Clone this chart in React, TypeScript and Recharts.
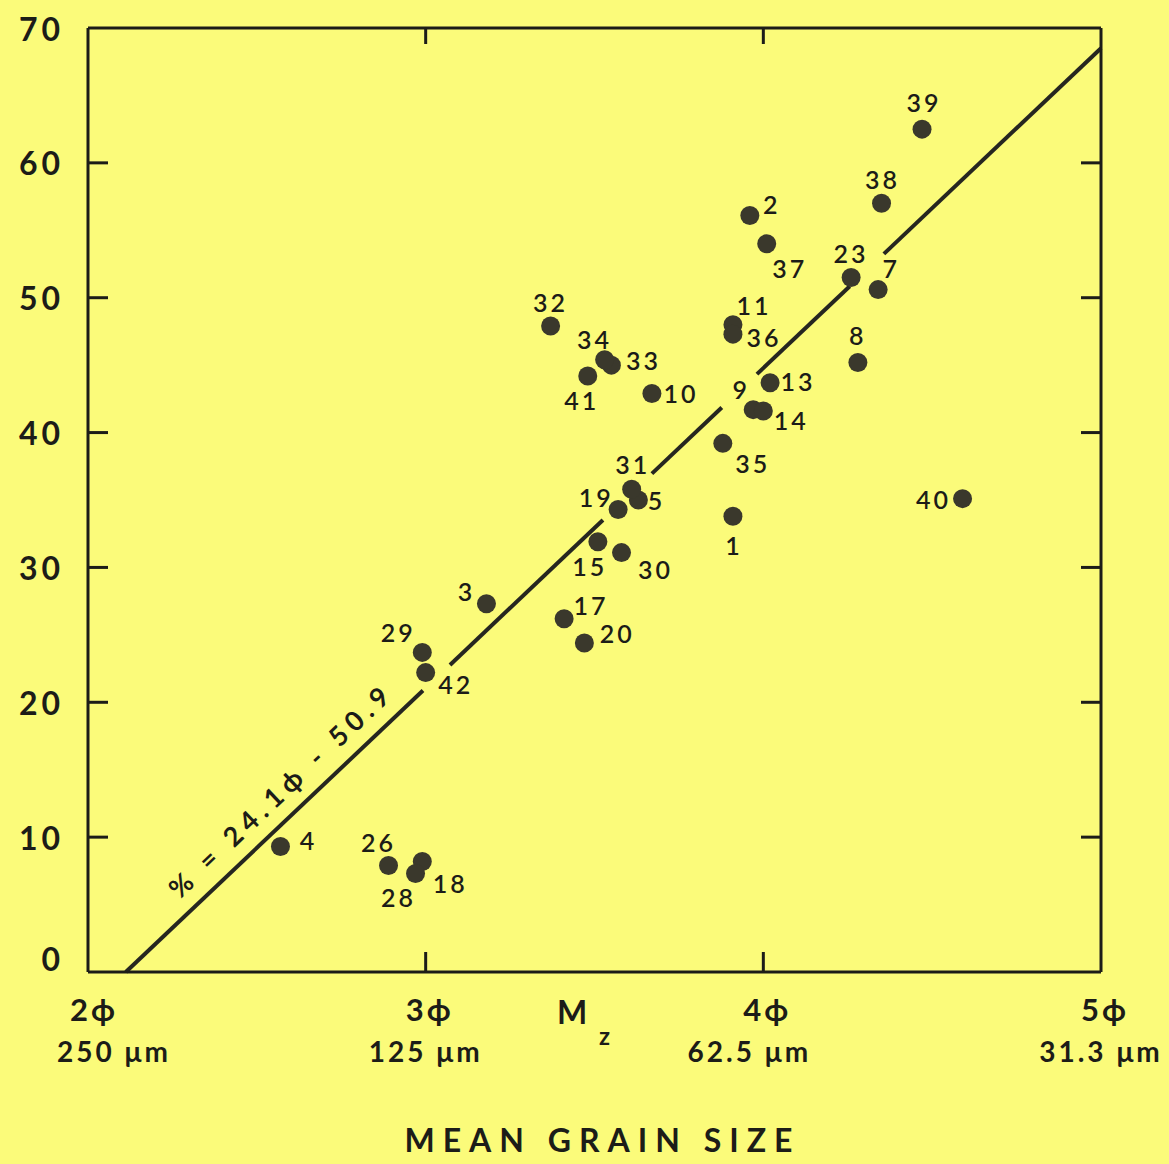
import { ReferenceDot, ReferenceLine, Scatter, ScatterChart, XAxis, YAxis } from "recharts";

// sample numbers, mean grain size (phi) and percent value
const SAMPLE_IDS = [1, 2, 3, 4, 5, 7, 8, 9, 10, 11, 13, 14, 15, 17, 18, 19, 20, 23, 26, 28, 29, 30, 31, 32, 33, 34, 35, 36, 37, 38, 39, 40, 41, 42];
const MEAN_PHI = [3.91, 3.96, 3.18, 2.57, 3.63, 4.34, 4.28, 3.97, 3.67, 3.91, 4.02, 4.0, 3.51, 3.41, 2.99, 3.57, 3.47, 4.26, 2.89, 2.97, 2.99, 3.58, 3.61, 3.37, 3.55, 3.53, 3.88, 3.91, 4.01, 4.35, 4.47, 4.59, 3.48, 3.0];
const PERCENT = [33.8, 56.1, 27.3, 9.3, 35.0, 50.6, 45.2, 41.7, 42.9, 48.0, 43.7, 41.6, 31.9, 26.2, 8.2, 34.3, 24.4, 51.5, 7.9, 7.3, 23.7, 31.1, 35.8, 47.9, 45.0, 45.4, 39.2, 47.3, 54.0, 57.0, 62.5, 35.1, 44.2, 22.2];

const X_TICKS = [2, 3, 4, 5];
const X_TICK_PHI = ["2ϕ", "3ϕ", "4ϕ", "5ϕ"];
const X_TICK_UM = ["250 μm", "125 μm", "62.5 μm", "31.3 μm"];
const Y_TICKS = [0, 10, 20, 30, 40, 50, 60, 70];

// regression line as drawn: end points and the pieces left between the label gaps
const FIT_START = { phi: 2.112, pct: 0 };
const FIT_END = { phi: 5.0, pct: 68.5 };
const FIT_PIECES = [
  [2.112, 2.992],
  [3.072, 3.525],
  [3.67, 3.877],
  [3.981, 4.256],
  [4.357, 5.0],
];
const EQUATION = "% = 24.1ϕ - 50.9";

// where each number sits relative to its dot (px)
const LABEL_OFFSET: Record<number, [number, number]> = {
  1: [1, 29], 2: [22, -11], 3: [-20, -13], 4: [28, -7], 5: [18, 0],
  7: [13, -22], 8: [0, -27], 9: [-12, -21], 10: [29, 0], 11: [21, -20],
  13: [28, -2], 14: [28, 9], 15: [-8, 24], 17: [27, -14], 18: [28, 22],
  19: [-22, -12], 20: [33, -10], 23: [0, -24], 26: [-10, -23], 28: [-17, 23],
  29: [-24, -20], 30: [34, 16], 31: [1, -25], 32: [0, -24], 33: [32, -5],
  34: [-10, -21], 35: [30, 20], 36: [31, 3], 37: [23, 24], 38: [1, -24],
  39: [2, -27], 40: [-29, 0], 41: [-6, 24], 42: [30, 11],
};

const W = 1169;
const H = 1164;
const MARGIN = { top: 8, right: 8, bottom: 92, left: 8 };
const TOP_AXIS_H = 20;
const RIGHT_AXIS_W = 60;
const PLOT_TOP = MARGIN.top + TOP_AXIS_H;
const PLOT_RIGHT = W - MARGIN.right - RIGHT_AXIS_W;

const BG = "#fbfb7a";
const INK = "#1c1c18";
const DOT = "#3a382c";
const FONT = "Lato, 'DejaVu Sans', sans-serif";
const TICK_LEN = 20;
const Y_LABEL_GAP = 24;

const data = SAMPLE_IDS.map((id, i) => ({ id, phi: MEAN_PHI[i], pct: PERCENT[i] }));

const fitAt = (phi: number) =>
  FIT_START.pct + ((phi - FIT_START.phi) * (FIT_END.pct - FIT_START.pct)) / (FIT_END.phi - FIT_START.phi);

const isEndY = (v: number) => v === Y_TICKS[0] || v === Y_TICKS[Y_TICKS.length - 1];

const SampleDot = (props: any) => {
  const { cx, cy, payload } = props;
  const [dx, dy] = LABEL_OFFSET[payload.id] ?? [20, 0];
  return (
    <g>
      <circle cx={cx} cy={cy} r={9.5} fill={DOT} />
      <text
        x={cx + dx}
        y={cy + dy}
        textAnchor="middle"
        dominantBaseline="central"
        fontFamily={FONT}
        fontWeight={600}
        fontSize={25}
        letterSpacing={3}
        fill={INK}
      >
        {payload.id}
      </text>
    </g>
  );
};

// left axis: number outside, inward marks on both the left and right frame
const YTick = (props: any) => {
  const { x, y, payload } = props;
  const axisX = x + Y_LABEL_GAP;
  return (
    <g>
      <text
        x={x}
        y={payload.value === 0 ? y - 14 : y}
        textAnchor="end"
        dominantBaseline="central"
        fontFamily={FONT}
        fontWeight={700}
        fontSize={32}
        letterSpacing={4}
        fill={INK}
      >
        {payload.value}
      </text>
      {!isEndY(payload.value) && (
        <>
          <line x1={axisX} x2={axisX + TICK_LEN} y1={y} y2={y} stroke={INK} strokeWidth={3} />
          <line x1={PLOT_RIGHT - TICK_LEN} x2={PLOT_RIGHT} y1={y} y2={y} stroke={INK} strokeWidth={3} />
        </>
      )}
    </g>
  );
};

// bottom axis: two-line label, inward marks on bottom and top frame
const XTick = (props: any) => {
  const { x, y, index } = props;
  const inner = index > 0 && index < X_TICKS.length - 1;
  return (
    <g>
      {inner && (
        <>
          <line x1={x} x2={x} y1={y} y2={y - TICK_LEN} stroke={INK} strokeWidth={3} />
          <line x1={x} x2={x} y1={PLOT_TOP} y2={PLOT_TOP + 16} stroke={INK} strokeWidth={3} />
        </>
      )}
      <g fontFamily={FONT} fontWeight={700} fill={INK} textAnchor="middle">
        <text x={x + (index === 0 ? 6 : 4)} y={y + 49} fontSize={31} letterSpacing={3}>
          {X_TICK_PHI[index]}
        </text>
        <text x={x + (index === 0 ? 26 : index === 2 ? -14 : 0)} y={y + 90} fontSize={28} letterSpacing={3}>
          {X_TICK_UM[index]}
        </text>
      </g>
    </g>
  );
};

const XAxisTitle = ({ viewBox }: any) => {
  const { x, y, width } = viewBox;
  return (
    <g fontFamily={FONT} fontWeight={700} fill={INK}>
      <text x={x + 469} y={y + 52} fontSize={32}>
        M
      </text>
      <text x={x + 511} y={y + 73} fontSize={24}>
        z
      </text>
      <text x={x + width / 2 + 8} y={y + 180} textAnchor="middle" fontSize={32} letterSpacing={8}>
        MEAN GRAIN SIZE
      </text>
    </g>
  );
};

const EquationLabel = ({ viewBox }: any) => {
  const cx = viewBox.x + viewBox.width / 2;
  const cy = viewBox.y + viewBox.height / 2;
  return (
    <text
      x={cx}
      y={cy}
      transform={`rotate(-43.5 ${cx} ${cy})`}
      textAnchor="middle"
      dominantBaseline="central"
      fontFamily={FONT}
      fontWeight={700}
      fontSize={27}
      letterSpacing={6}
      fill={INK}
    >
      {EQUATION}
    </text>
  );
};

export default function App() {
  return (
    <div style={{ position: "absolute", left: 0, top: 0, width: W, height: H, background: BG }}>
      <ScatterChart width={W} height={H} margin={MARGIN}>
        <XAxis
          type="number"
          dataKey="phi"
          domain={[2, 5]}
          ticks={X_TICKS}
          allowDataOverflow
          stroke={INK}
          strokeWidth={3}
          tickLine={false}
          tickSize={0}
          tickMargin={0}
          tick={<XTick />}
          height={100}
          label={{ content: <XAxisTitle /> }}
        />
        <XAxis
          xAxisId="t"
          orientation="top"
          type="number"
          domain={[2, 5]}
          stroke={INK}
          strokeWidth={3}
          tickLine={false}
          tick={false}
          height={TOP_AXIS_H}
        />
        <YAxis
          type="number"
          dataKey="pct"
          domain={[0, 70]}
          ticks={Y_TICKS}
          allowDataOverflow
          stroke={INK}
          strokeWidth={3}
          tickLine={false}
          tickSize={0}
          tickMargin={Y_LABEL_GAP}
          tick={<YTick />}
          width={80}
        />
        <YAxis
          yAxisId="r"
          orientation="right"
          type="number"
          domain={[0, 70]}
          stroke={INK}
          strokeWidth={3}
          tickLine={false}
          tick={false}
          width={RIGHT_AXIS_W}
        />
        {FIT_PIECES.map(([a, b], i) => (
          <ReferenceLine
            key={i}
            segment={[
              { x: a, y: fitAt(a) },
              { x: b, y: fitAt(b) },
            ]}
            stroke="#262620"
            strokeWidth={4}
            ifOverflow="visible"
          />
        ))}
        <ReferenceDot
          x={2.57}
          y={13.5}
          r={0}
          fill="none"
          stroke="none"
          ifOverflow="visible"
          label={{ content: <EquationLabel /> }}
        />
        <Scatter data={data} shape={<SampleDot />} isAnimationActive={false} />
      </ScatterChart>
    </div>
  );
}
